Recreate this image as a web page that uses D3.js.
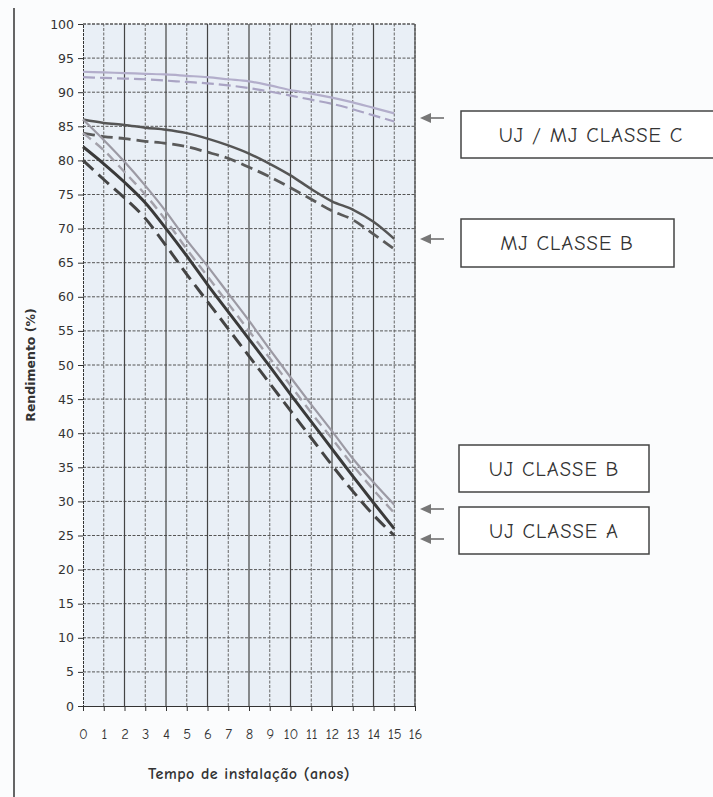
<!DOCTYPE html>
<html><head><meta charset="utf-8">
<script src="https://cdn.jsdelivr.net/npm/d3@7"></script>
<style>body{margin:0;background:#fbfcfd;}svg{display:block;}</style>
</head><body>
<svg id="c" width="713" height="797"></svg>
<script>
const years = d3.range(0, 16);
const xTicks = d3.range(0, 17);
const yTicks = d3.range(0, 101, 5);
const ujmjC_solid = [93, 92.9, 92.8, 92.7, 92.6, 92.4, 92.2, 91.9, 91.6, 91.0, 90.3, 89.8, 89.2, 88.5, 87.7, 86.9];
const ujmjC_dash  = [92.2, 92.1, 92.0, 91.9, 91.7, 91.5, 91.3, 91.0, 90.6, 90.1, 89.5, 88.9, 88.3, 87.5, 86.6, 85.7];
const mjB_solid = [86, 85.5, 85.2, 84.8, 84.5, 84.0, 83.2, 82.2, 81.0, 79.5, 77.8, 75.8, 74.0, 72.8, 71.0, 68.5];
const mjB_dash  = [84, 83.5, 83.2, 82.8, 82.5, 82.0, 81.2, 80.3, 79.0, 77.6, 76.0, 74.3, 72.6, 71.3, 69.2, 67.0];
const ujB_solid = [86, 83, 79.8, 76.3, 72.5, 68.3, 64.5, 60.5, 56.5, 52.3, 48.2, 44.2, 40.3, 36.3, 32.8, 29.5];
const ujB_dash  = [84, 81.5, 78.3, 75.0, 71.2, 67.0, 63.0, 59.0, 55.0, 51.0, 47.0, 43.0, 39.2, 35.3, 31.7, 28.3];
const ujA_solid = [82, 79.5, 76.8, 73.8, 70.0, 66.0, 61.8, 57.8, 53.8, 49.8, 45.7, 41.7, 37.7, 33.7, 29.8, 26.0];
const ujA_dash  = [80, 77.2, 74.5, 71.5, 67.5, 63.3, 59.3, 55.3, 51.3, 47.3, 43.3, 39.3, 35.3, 31.5, 28.0, 25.0];
const labels = ["UJ / MJ  CLASSE C", "MJ   CLASSE B", "UJ  CLASSE B", "UJ  CLASSE A"];

const svg = d3.select("#c");
const x = d3.scaleLinear().domain([0, 16]).range([83, 415]);
const y = d3.scaleLinear().domain([0, 100]).range([706, 24]);
const comic = "'Comic Sans MS','Comic Neue','Noto Sans',sans-serif";

// scan border line
svg.append("line").attr("x1", 14).attr("x2", 14).attr("y1", 8).attr("y2", 797)
  .attr("stroke", "#333").attr("stroke-width", 1.5);

// plot background
svg.append("rect").attr("x", x(0)).attr("y", y(100)).attr("width", x(16) - x(0)).attr("height", y(0) - y(100))
  .attr("fill", "#e9eff6");

// grid
const g = svg.append("g");
g.selectAll("line.h").data(yTicks.filter(d => d > 0)).join("line")
  .attr("x1", x(0)).attr("x2", x(16)).attr("y1", d => y(d)).attr("y2", d => y(d))
  .attr("stroke", "#555").attr("stroke-width", 1).attr("stroke-dasharray", "3,1.5");
g.selectAll("line.v").data(xTicks.filter(d => d > 0)).join("line")
  .attr("x1", d => x(d)).attr("x2", d => x(d)).attr("y1", y(0)).attr("y2", y(100))
  .attr("stroke", d => d % 2 === 0 ? "#444" : "#666")
  .attr("stroke-width", d => d % 2 === 0 ? 1.2 : 1)
  .attr("stroke-dasharray", d => d % 2 === 0 ? null : "3,1.5");

// axes
const yAxis = d3.axisLeft(y).tickValues(yTicks).tickSize(5).tickPadding(4);
const ya = svg.append("g").attr("transform", `translate(${x(0)},0)`).call(yAxis);
ya.select(".domain").attr("stroke", "#333").attr("stroke-dasharray", "3,1");
ya.selectAll("text").attr("font-family", "DejaVu Sans, Verdana, sans-serif").attr("font-size", 12.5).attr("fill", "#333");
ya.selectAll(".tick line").attr("stroke", "#333");

const xAxis = d3.axisBottom(x).tickValues(xTicks).tickSize(5).tickPadding(18);
const xa = svg.append("g").attr("transform", `translate(0,${y(0)})`).call(xAxis);
xa.select(".domain").attr("stroke", "#333");
xa.selectAll("text").attr("font-family", comic).attr("font-size", 14.5).attr("fill", "#333");
xa.selectAll(".tick line").attr("stroke", "#333");

// right and top border
svg.append("line").attr("x1", x(16)).attr("x2", x(16)).attr("y1", y(0)).attr("y2", y(100))
  .attr("stroke", "#555").attr("stroke-dasharray", "3,1.5");
svg.append("line").attr("x1", x(0)).attr("x2", x(16)).attr("y1", y(100)).attr("y2", y(100))
  .attr("stroke", "#555").attr("stroke-dasharray", "3,1.5");

// series
const line = d3.line().x((d, i) => x(years[i])).y(d => y(d)).curve(d3.curveMonotoneX);
const series = [
  {d: ujmjC_solid, c: "#b3aecb", w: 2.2, dash: null},
  {d: ujmjC_dash, c: "#aaa4c4", w: 2.2, dash: "12,5"},
  {d: mjB_solid, c: "#555", w: 2.5, dash: null},
  {d: mjB_dash, c: "#5a5a5a", w: 2.8, dash: "12,6"},
  {d: ujB_solid, c: "#9c9aa4", w: 2.2, dash: null},
  {d: ujB_dash, c: "#a3a1aa", w: 2.4, dash: "10,6"},
  {d: ujA_solid, c: "#3a3a3a", w: 3, dash: null},
  {d: ujA_dash, c: "#444", w: 3, dash: "14,7"}
];
svg.append("g").selectAll("path").data(series).join("path")
  .attr("d", s => line(s.d)).attr("fill", "none")
  .attr("stroke", s => s.c).attr("stroke-width", s => s.w)
  .attr("stroke-dasharray", s => s.dash);

// axis titles
svg.append("text").attr("transform", `translate(35,${y(50)}) rotate(-90)`)
  .attr("text-anchor", "middle").attr("font-family", "DejaVu Sans, Verdana, sans-serif")
  .attr("font-weight", "bold").attr("font-size", 12.5).attr("fill", "#333").text("Rendimento (%)");
svg.append("text").attr("x", 249).attr("y", 779).attr("text-anchor", "middle")
  .attr("font-family", comic).attr("font-weight", "bold").attr("font-size", 16).attr("fill", "#333")
  .attr("letter-spacing", 0.5)
  .text("Tempo de instalação (anos)");

// annotation boxes
const boxes = [
  {x: 461, y: 111, w: 258, h: 47, ay: 118, cx: 591},
  {x: 461, y: 219, w: 213, h: 48, ay: 239, cx: 567},
  {x: 459, y: 445, w: 190, h: 47, ay: 509, cx: 554},
  {x: 459, y: 507, w: 190, h: 47, ay: 539, cx: 554}
];
const ann = svg.append("g");
boxes.forEach((b, i) => {
  ann.append("rect").attr("x", b.x).attr("y", b.y).attr("width", b.w).attr("height", b.h)
    .attr("fill", "#fff").attr("stroke", "#444").attr("stroke-width", 1.5);
  ann.append("text").attr("x", b.cx).attr("y", b.y + b.h / 2 + 7)
    .attr("text-anchor", "middle").attr("font-family", comic).attr("font-size", 20.5)
    .attr("letter-spacing", 1).attr("fill", "#333")
    .text(labels[i]);
  ann.append("line").attr("x1", 428).attr("x2", 444).attr("y1", b.ay).attr("y2", b.ay)
    .attr("stroke", "#666").attr("stroke-width", 1.5);
  ann.append("path").attr("d", `M420,${b.ay} L431,${b.ay - 5} L431,${b.ay + 5} Z`).attr("fill", "#777");
});
</script>
</body></html>
